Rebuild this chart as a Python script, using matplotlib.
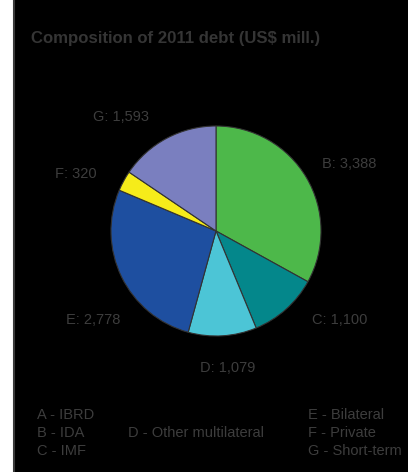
import matplotlib
matplotlib.use("Agg")
import matplotlib.pyplot as plt
from matplotlib.patches import Rectangle

# ---- data ----
codes = ["A", "B", "C", "D", "E", "F", "G"]
names = ["IBRD", "IDA", "IMF", "Other multilateral", "Bilateral", "Private", "Short-term"]
values = [0, 3388, 1100, 1079, 2778, 320, 1593]
colors = ["#2e6db4", "#4db84a", "#04878b", "#4cc5d6", "#1e4fa0", "#f6ec1a", "#7a7fbf"]
title = "Composition of 2011 debt (US$ mill.)"

W, H = 408, 472
DPI = 100
plt.rcParams['font.family'] = ['Liberation Sans', 'DejaVu Sans']
fig = plt.figure(figsize=(W / DPI, H / DPI), dpi=DPI)
fig.patch.set_facecolor("white")

def fx(px):
    return px / W

def fy(py):
    return 1 - py / H

# black panel
fig.patches.append(Rectangle((fx(13.5), fy(480)), fx(420), 480 / H + 0.02,
                             transform=fig.transFigure, facecolor="black",
                             edgecolor="#3a3a3a", linewidth=1.5, zorder=-5))

txtc = "#3d3d3d"
fig.text(fx(31), fy(38), title, fontsize=12.1, fontweight="bold", color="#353535",
         ha="left", va="center")

# pie
cx, cy, r = 216, 231, 105
ax = fig.add_axes([fx(cx - r), fy(cy + r), 2 * r / W, 2 * r / H])
ax.set_zorder(5)
ax.set_facecolor("none")
pv = [v for v in values if v > 0]
pc = [c for v, c in zip(values, colors) if v > 0]
pcodes = [k for v, k in zip(values, codes) if v > 0]
ax.pie(pv, colors=pc, startangle=90, counterclock=False, radius=1,
       wedgeprops=dict(edgecolor="#333333", linewidth=0.8))
ax.set_xlim(-1, 1)
ax.set_ylim(-1, 1)
ax.set_aspect("equal")
ax.axis("off")

# value labels (pixel positions of left edge, vertical center)
label_pos = {"B": (322, 164), "C": (312, 320), "D": (200, 368),
             "E": (66, 320), "F": (55, 174), "G": (93, 117)}
for k, v in zip(pcodes, pv):
    x, y = label_pos[k]
    fig.text(fx(x), fy(y), f"{k}: {v:,}", fontsize=10.5, color=txtc,
             ha="left", va="center")

# legend text
leg_pos = {"A": (37, 415), "B": (37, 433), "C": (37, 451), "D": (128, 433),
           "E": (308, 415), "F": (308, 433), "G": (308, 451)}
for k, n in zip(codes, names):
    x, y = leg_pos[k]
    fig.text(fx(x), fy(y), f"{k} - {n}", fontsize=10.5, color=txtc,
             ha="left", va="center")

fig.savefig("out.png", dpi=DPI, facecolor=fig.get_facecolor())
